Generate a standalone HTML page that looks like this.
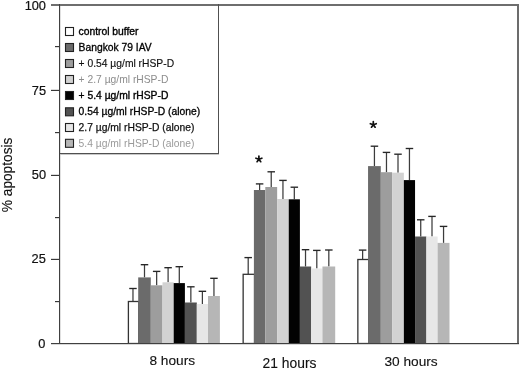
<!DOCTYPE html>
<html><head><meta charset="utf-8"><style>
html,body{margin:0;padding:0;background:#fff;width:520px;height:369px;overflow:hidden}
svg{display:block;font-family:"Liberation Sans",sans-serif;will-change:transform}

</style></head><body>
<svg width="520" height="369" viewBox="0 0 520 369">
<rect width="520" height="369" fill="#fff"/>
<path d="M132.97 301.50V288.50" stroke="#3c3c3c" stroke-width="1.25" fill="none"/>
<path d="M129.22 288.50H136.72" stroke="#262626" stroke-width="1.35" fill="none"/>
<rect x="128.40" y="301.50" width="10.45" height="42.00" fill="#fff" stroke="#333" stroke-width="1.3"/>
<path d="M144.50 277.40V264.70" stroke="#3c3c3c" stroke-width="1.25" fill="none"/>
<path d="M140.75 264.70H148.25" stroke="#262626" stroke-width="1.35" fill="none"/>
<rect x="138.20" y="277.40" width="12.60" height="66.10" fill="#6b6b6b"/>
<path d="M156.65 285.30V271.40" stroke="#3c3c3c" stroke-width="1.25" fill="none"/>
<path d="M152.90 271.40H160.40" stroke="#262626" stroke-width="1.35" fill="none"/>
<rect x="150.80" y="285.30" width="11.70" height="58.20" fill="#9d9d9d"/>
<path d="M168.10 282.30V267.70" stroke="#3c3c3c" stroke-width="1.25" fill="none"/>
<path d="M164.35 267.70H171.85" stroke="#262626" stroke-width="1.35" fill="none"/>
<rect x="162.50" y="282.30" width="11.20" height="61.20" fill="#d2d2d2"/>
<path d="M179.30 283.10V266.70" stroke="#3c3c3c" stroke-width="1.25" fill="none"/>
<path d="M175.55 266.70H183.05" stroke="#262626" stroke-width="1.35" fill="none"/>
<rect x="173.70" y="283.10" width="11.20" height="60.40" fill="#020202"/>
<path d="M190.85 302.50V286.80" stroke="#3c3c3c" stroke-width="1.25" fill="none"/>
<path d="M187.10 286.80H194.60" stroke="#262626" stroke-width="1.35" fill="none"/>
<rect x="184.90" y="302.50" width="11.90" height="41.00" fill="#525252"/>
<path d="M202.40 304.00V291.30" stroke="#3c3c3c" stroke-width="1.25" fill="none"/>
<path d="M198.65 291.30H206.15" stroke="#262626" stroke-width="1.35" fill="none"/>
<rect x="196.80" y="304.00" width="11.20" height="39.50" fill="#e7e7e7"/>
<path d="M213.95 296.00V278.30" stroke="#3c3c3c" stroke-width="1.25" fill="none"/>
<path d="M210.20 278.30H217.70" stroke="#262626" stroke-width="1.35" fill="none"/>
<rect x="208.00" y="296.00" width="11.90" height="47.50" fill="#b6b6b6"/>
<path d="M248.20 274.30V257.60" stroke="#3c3c3c" stroke-width="1.25" fill="none"/>
<path d="M244.45 257.60H251.95" stroke="#262626" stroke-width="1.35" fill="none"/>
<rect x="243.15" y="274.30" width="11.40" height="69.20" fill="#fff" stroke="#333" stroke-width="1.3"/>
<path d="M259.60 190.00V183.90" stroke="#3c3c3c" stroke-width="1.25" fill="none"/>
<path d="M255.85 183.90H263.35" stroke="#262626" stroke-width="1.35" fill="none"/>
<rect x="253.90" y="190.00" width="11.40" height="153.50" fill="#6b6b6b"/>
<path d="M271.23 187.00V171.80" stroke="#3c3c3c" stroke-width="1.25" fill="none"/>
<path d="M267.48 171.80H274.98" stroke="#262626" stroke-width="1.35" fill="none"/>
<rect x="265.30" y="187.00" width="11.85" height="156.50" fill="#9d9d9d"/>
<path d="M282.95 199.00V180.40" stroke="#3c3c3c" stroke-width="1.25" fill="none"/>
<path d="M279.20 180.40H286.70" stroke="#262626" stroke-width="1.35" fill="none"/>
<rect x="277.15" y="199.00" width="11.60" height="144.50" fill="#d2d2d2"/>
<path d="M294.32 199.30V187.20" stroke="#3c3c3c" stroke-width="1.25" fill="none"/>
<path d="M290.57 187.20H298.07" stroke="#262626" stroke-width="1.35" fill="none"/>
<rect x="288.75" y="199.30" width="11.15" height="144.20" fill="#020202"/>
<path d="M305.52 266.50V249.70" stroke="#3c3c3c" stroke-width="1.25" fill="none"/>
<path d="M301.77 249.70H309.27" stroke="#262626" stroke-width="1.35" fill="none"/>
<rect x="299.90" y="266.50" width="11.25" height="77.00" fill="#525252"/>
<path d="M316.80 268.50V250.40" stroke="#3c3c3c" stroke-width="1.25" fill="none"/>
<path d="M313.05 250.40H320.55" stroke="#262626" stroke-width="1.35" fill="none"/>
<rect x="311.15" y="268.50" width="11.30" height="75.00" fill="#e7e7e7"/>
<path d="M328.82 266.50V250.00" stroke="#3c3c3c" stroke-width="1.25" fill="none"/>
<path d="M325.07 250.00H332.57" stroke="#262626" stroke-width="1.35" fill="none"/>
<rect x="322.45" y="266.50" width="12.75" height="77.00" fill="#b6b6b6"/>
<path d="M362.62 259.50V250.10" stroke="#3c3c3c" stroke-width="1.25" fill="none"/>
<path d="M358.88 250.10H366.38" stroke="#262626" stroke-width="1.35" fill="none"/>
<rect x="357.85" y="259.50" width="10.85" height="84.00" fill="#fff" stroke="#333" stroke-width="1.3"/>
<path d="M374.43 166.10V146.20" stroke="#3c3c3c" stroke-width="1.25" fill="none"/>
<path d="M370.68 146.20H378.18" stroke="#262626" stroke-width="1.35" fill="none"/>
<rect x="368.05" y="166.10" width="12.75" height="177.40" fill="#6b6b6b"/>
<path d="M386.48 172.20V152.40" stroke="#3c3c3c" stroke-width="1.25" fill="none"/>
<path d="M382.73 152.40H390.23" stroke="#262626" stroke-width="1.35" fill="none"/>
<rect x="380.80" y="172.20" width="11.35" height="171.30" fill="#9d9d9d"/>
<path d="M398.00 172.70V154.20" stroke="#3c3c3c" stroke-width="1.25" fill="none"/>
<path d="M394.25 154.20H401.75" stroke="#262626" stroke-width="1.35" fill="none"/>
<rect x="392.15" y="172.70" width="11.70" height="170.80" fill="#d2d2d2"/>
<path d="M409.45 180.10V148.50" stroke="#3c3c3c" stroke-width="1.25" fill="none"/>
<path d="M405.70 148.50H413.20" stroke="#262626" stroke-width="1.35" fill="none"/>
<rect x="403.85" y="180.10" width="11.20" height="163.40" fill="#020202"/>
<path d="M420.73 236.50V219.80" stroke="#3c3c3c" stroke-width="1.25" fill="none"/>
<path d="M416.98 219.80H424.48" stroke="#262626" stroke-width="1.35" fill="none"/>
<rect x="415.05" y="236.50" width="11.35" height="107.00" fill="#525252"/>
<path d="M432.00 236.50V216.40" stroke="#3c3c3c" stroke-width="1.25" fill="none"/>
<path d="M428.25 216.40H435.75" stroke="#262626" stroke-width="1.35" fill="none"/>
<rect x="426.40" y="236.50" width="11.20" height="107.00" fill="#e7e7e7"/>
<path d="M443.55 242.90V226.40" stroke="#3c3c3c" stroke-width="1.25" fill="none"/>
<path d="M439.80 226.40H447.30" stroke="#262626" stroke-width="1.35" fill="none"/>
<rect x="437.60" y="242.90" width="11.90" height="100.60" fill="#b6b6b6"/>
<rect x="51" y="4" width="468" height="2" fill="#6e6e6e"/>
<rect x="517" y="4" width="2" height="340" fill="#6c6c6c"/>
<rect x="51" y="343" width="468" height="1" fill="#404040"/>
<rect x="51" y="344" width="468" height="1" fill="#d8d8d8"/>
<rect x="59" y="4" width="1" height="340" fill="#404040"/>
<rect x="60" y="6" width="1" height="337" fill="#e0e0e0"/>
<rect x="51" y="90" width="8" height="1" fill="#383838"/>
<rect x="51" y="89" width="8" height="1" fill="#dcdcdc"/>
<rect x="51" y="175" width="8" height="1" fill="#383838"/>
<rect x="51" y="174" width="8" height="1" fill="#dcdcdc"/>
<rect x="51" y="259" width="8" height="1" fill="#383838"/>
<rect x="51" y="258" width="8" height="1" fill="#dcdcdc"/>
<rect x="55" y="46" width="4" height="1" fill="#383838"/>
<rect x="55" y="47" width="4" height="1" fill="#dcdcdc"/>
<rect x="55" y="132" width="4" height="1" fill="#383838"/>
<rect x="55" y="133" width="4" height="1" fill="#dcdcdc"/>
<rect x="55" y="217" width="4" height="1" fill="#383838"/>
<rect x="55" y="218" width="4" height="1" fill="#dcdcdc"/>
<rect x="55" y="301" width="4" height="1" fill="#383838"/>
<rect x="55" y="302" width="4" height="1" fill="#dcdcdc"/>
<rect x="218" y="4" width="1" height="150" fill="#505050"/>
<rect x="60" y="153" width="159" height="1" fill="#505050"/>
<rect x="60" y="154" width="159" height="1" fill="#c8c8c8"/>
<rect x="65.5" y="27.50" width="8" height="8" fill="#fff" stroke="#222" stroke-width="1.1"/>
<text x="78.6" y="35.00" font-size="10.3" fill="#000" stroke="#000" stroke-width="0.35">control buffer</text>
<rect x="65.5" y="43.50" width="8" height="8" fill="#6b6b6b" stroke="#222" stroke-width="1.1"/>
<text x="78.6" y="51.00" font-size="10.3" fill="#000" stroke="#000" stroke-width="0.3">Bangkok 79 IAV</text>
<rect x="65.5" y="59.50" width="8" height="8" fill="#9d9d9d" stroke="#222" stroke-width="1.1"/>
<text x="78.6" y="67.00" font-size="10.3" fill="#111" stroke="#111" stroke-width="0.15">+ 0.54 µg/ml rHSP-D</text>
<rect x="65.5" y="75.50" width="8" height="8" fill="#d2d2d2" stroke="#222" stroke-width="1.1"/>
<text x="78.6" y="83.00" font-size="10.3" fill="#8c8c8c">+ 2.7 µg/ml rHSP-D</text>
<rect x="65.5" y="91.50" width="8" height="8" fill="#020202" stroke="#222" stroke-width="1.1"/>
<text x="78.6" y="99.00" font-size="10.3" fill="#000" stroke="#000" stroke-width="0.35">+ 5.4 µg/ml rHSP-D</text>
<rect x="65.5" y="107.80" width="8" height="8" fill="#525252" stroke="#222" stroke-width="1.1"/>
<text x="78.6" y="115.30" font-size="10.3" fill="#000" stroke="#000" stroke-width="0.3">0.54 µg/ml rHSP-D (alone)</text>
<rect x="65.5" y="123.50" width="8" height="8" fill="#e7e7e7" stroke="#222" stroke-width="1.1"/>
<text x="78.6" y="131.00" font-size="10.3" fill="#111" stroke="#111" stroke-width="0.25">2.7 µg/ml rHSP-D (alone)</text>
<rect x="65.5" y="139.30" width="8" height="8" fill="#b6b6b6" stroke="#222" stroke-width="1.1"/>
<text x="78.6" y="146.80" font-size="10.3" fill="#9a9a9a">5.4 µg/ml rHSP-D (alone)</text>
<text x="46.0" y="9.80" font-size="12.8" text-anchor="end" fill="#111" stroke="#111" stroke-width="0.2">100</text>
<text x="46.0" y="94.90" font-size="12.8" text-anchor="end" fill="#111" stroke="#111" stroke-width="0.2">75</text>
<text x="46.0" y="179.20" font-size="12.8" text-anchor="end" fill="#111" stroke="#111" stroke-width="0.2">50</text>
<text x="45.8" y="263.20" font-size="12.8" text-anchor="end" fill="#111" stroke="#111" stroke-width="0.2">25</text>
<text x="45.3" y="348.20" font-size="12.8" text-anchor="end" fill="#111" stroke="#111" stroke-width="0.2">0</text>
<text x="149.4" y="365.1" font-size="13.7" fill="#111" stroke="#111" stroke-width="0.12">8 hours</text>
<text x="262.6" y="367.6" font-size="13.85" fill="#111" stroke="#111" stroke-width="0.12">21 hours</text>
<text x="384.4" y="366.1" font-size="13.7" fill="#111" stroke="#111" stroke-width="0.12">30 hours</text>
<text transform="translate(12.0 174.9) rotate(-90) scale(1 1.1)" font-size="13.7" text-anchor="middle" fill="#111" stroke="#111" stroke-width="0.12">% apoptosis</text>
<path d="M258.90 159.20L258.90 156.10M258.90 159.20L261.85 158.24M258.90 159.20L260.72 161.71M258.90 159.20L257.08 161.71M258.90 159.20L255.95 158.24" stroke="#111" stroke-width="1.7" stroke-linecap="round" fill="none"/>
<path d="M373.30 124.70L373.30 121.60M373.30 124.70L376.25 123.74M373.30 124.70L375.12 127.21M373.30 124.70L371.48 127.21M373.30 124.70L370.35 123.74" stroke="#111" stroke-width="1.7" stroke-linecap="round" fill="none"/>
</svg>
</body></html>
